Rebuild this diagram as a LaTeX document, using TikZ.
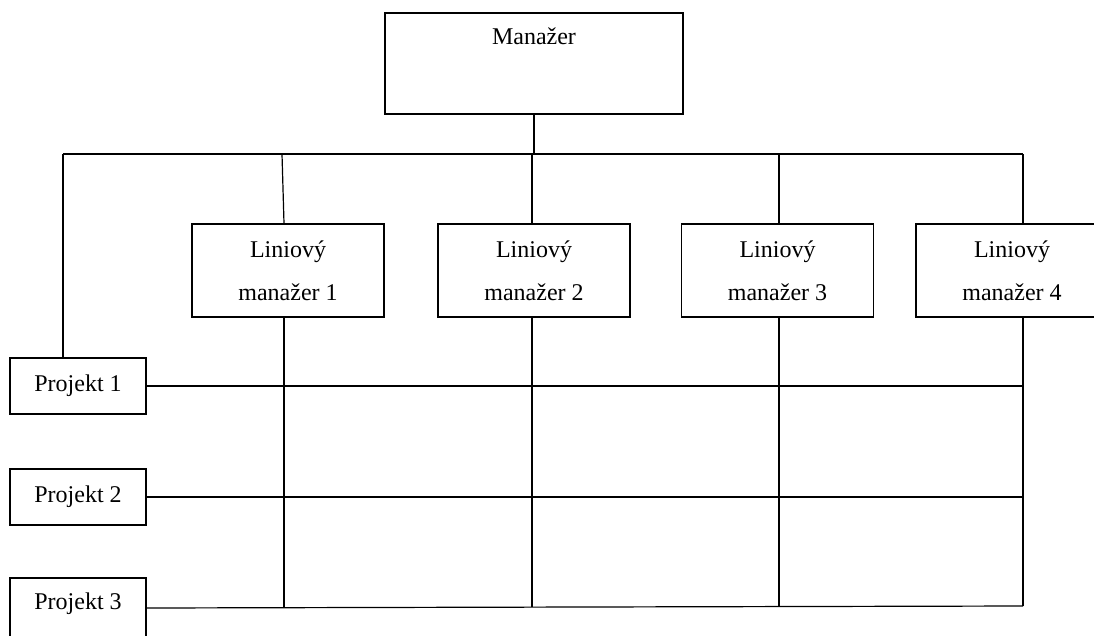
\documentclass[tikz,border=0pt]{standalone}
\usepackage{fontspec}
\setmainfont{Liberation Serif}
\usetikzlibrary{positioning, calc}

\begin{document}
\begin{tikzpicture}[
    x=1pt, y=-1pt,
    font=\fontsize{24}{43}\selectfont,
    box/.style={draw, rectangle, line width=1.2pt, align=center, inner sep=0pt},
    linebox/.style={box, minimum width=192pt, minimum height=93pt},
    projbox/.style={box, minimum width=136pt, minimum height=56pt},
    link/.style={line width=1.2pt}
]
\useasboundingbox (0,0) rectangle (1094,635);

% Manager
\node[box, minimum width=298pt, minimum height=101pt,
      label={[anchor=center, yshift=-24pt]north:Manažer}] (man) at (534,63.5) {};

% Line managers
\node[linebox] (lm1) at (288,270.5) {Liniový\\manažer 1};
\node[linebox] (lm2) at (534,270.5) {Liniový\\manažer 2};
\node[linebox] (lm3) at (777.5,270.5) {Liniový\\manažer 3};
\node[linebox] (lm4) at (1012,270.5) {Liniový\\manažer 4};

% Projects
\node[projbox] (p1) at (78,386) {Projekt 1};
\node[projbox] (p2) at (78,497) {Projekt 2};
\node[projbox, minimum height=70pt, text depth=23pt] (p3) at (78,613) {Projekt 3};

% Bus
\coordinate (busL) at (63,154);
\coordinate (busR) at (1023,154);
\coordinate (t1) at (282,154);
\coordinate (b1) at (284,607.6);
\coordinate (b2) at (532,607.1);
\coordinate (b3) at (779,606.6);
\coordinate (b4) at (1023,606);

\draw[link] (busL) -- (busR);
\draw[link] (man.south) -- (man.south |- busL);
\draw[link] (busL) -- (busL |- p1.north);

% Columns
\draw[link] (t1) -- ([xshift=-4pt]lm1.north);
\draw[link] ([xshift=-2pt]lm2.north) -- ([xshift=-2pt]lm2.north |- busL);
\draw[link] ([xshift=1.5pt]lm3.north) -- ([xshift=1.5pt]lm3.north |- busL);
\draw[link] (busR) -- (busR |- lm4.north);

\draw[link] ([xshift=-4pt]lm1.south) -- (b1);
\draw[link] ([xshift=-2pt]lm2.south) -- (b2);
\draw[link] ([xshift=1.5pt]lm3.south) -- (b3);
\draw[link] (busR |- lm4.south) -- (b4);

% Project rows
\draw[link] (p1.east) -- (p1.east -| b4);
\draw[link] (p2.east) -- (p2.east -| b4);
\draw[link] ([yshift=5pt]p3.east) -- (b4);

\end{tikzpicture}
\end{document}
